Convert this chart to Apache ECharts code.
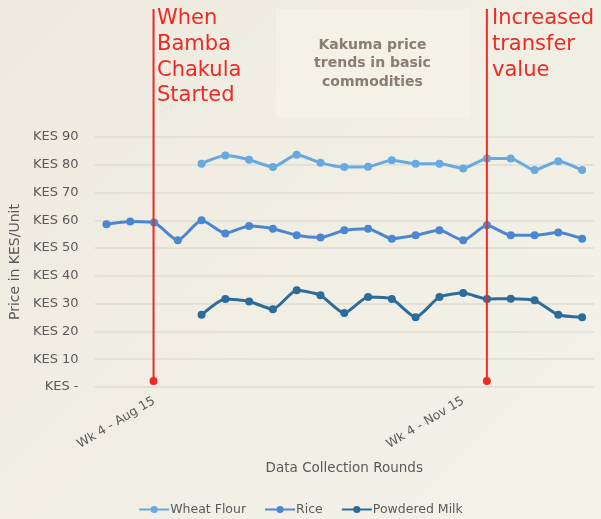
<!DOCTYPE html>
<html>
<head>
<meta charset="utf-8">
<title>Kakuma price trends</title>
<script src="https://cdn.jsdelivr.net/npm/echarts@6/dist/echarts.min.js"></script>
<style>
  html, body { margin: 0; padding: 0; }
  body {
    width: 601px;
    height: 519px;
    background: linear-gradient(135deg, #eeeadf 0%, #f1eee4 50%, #f4f2e9 100%);
  }
  #chart { width: 601px; height: 519px; }
</style>
</head>
<body>
<div id="chart"></div>
<script>
// weekly data collection rounds, only two of them carry a label
const categories = [
  "", "", "Wk 4 - Aug 15", "", "", "", "", "", "", "", "",
  "", "", "", "", "Wk 4 - Nov 15", "", "", "", "", ""
];

// prices in KES per unit
const wheatFlour = [
  null, null, null, null,
  80.4, 83.3, 81.8, 79.2, 83.6, 80.7, 79.2, 79.3, 81.6,
  80.4, 80.4, 78.7, 82.3, 82.3, 78.1, 81.3, 78.1
];
const rice = [
  58.6, 59.6, 59.2, 52.8, 60.0, 55.3, 58.0, 57.0, 54.6, 53.8, 56.4,
  57.0, 53.4, 54.6, 56.4, 52.8, 58.2, 54.6, 54.6, 55.6, 53.4
];
const powderedMilk = [
  null, null, null, null,
  26.0, 31.7, 30.8, 28.0, 34.8, 33.0, 26.6, 32.4, 31.7,
  25.1, 32.4, 33.8, 31.7, 31.8, 31.2, 26.0, 25.1
];

// annotation lines: category index and text
const eventIdx = [2, 16];
const eventText = ["When\nBamba\nChakula\nStarted", "Increased\ntransfer\nvalue"];

const yTicks = [0, 10, 20, 30, 40, 50, 60, 70, 80, 90];

const textColor = "#595959";
const font = "DejaVu Sans";

function eventSeries(idx) {
  return {
    type: "line",
    xAxisIndex: 1,
    yAxisIndex: 1,
    silent: true,
    z: 5,
    data: [
      { value: [idx, 1.6], symbol: "circle", symbolSize: 8 },
      { value: [idx, 100], symbol: "none" }
    ],
    itemStyle: { color: "#ee2a24" },
    lineStyle: { color: "#ee2a24", width: 2 }
  };
}

function priceSeries(name, data, color) {
  return {
    name: name,
    type: "line",
    data: data,
    smooth: 0.2,
    connectNulls: false,
    symbol: "circle",
    symbolSize: 8,
    itemStyle: { color: color },
    lineStyle: { color: color, width: 3 },
    z: 3
  };
}

const chart = echarts.init(document.getElementById("chart"));
chart.setOption({
  backgroundColor: "transparent",
  animation: false,
  textStyle: { fontFamily: font },
  grid: [
    { left: 94, right: 7, top: 137, bottom: 132 },
    { left: 94, right: 7, top: 9, bottom: 132 }
  ],
  legend: {
    data: ["Wheat Flour", "Rice", "Powdered Milk"],
    left: "center",
    top: 498,
    itemWidth: 30,
    itemHeight: 9,
    itemGap: 18,
    textStyle: { color: textColor, fontSize: 12.5, fontFamily: font, padding: [0, 0, 0, -4] }
  },
  xAxis: [
    {
      type: "category",
      data: categories,
      gridIndex: 0,
      boundaryGap: true,
      axisLine: { show: false },
      axisTick: { show: false },
      axisLabel: {
        interval: 0,
        rotate: 31,
        margin: 13,
        color: textColor,
        fontSize: 12.5,
        fontFamily: font
      },
      name: "Data Collection Rounds",
      nameLocation: "middle",
      nameGap: 74,
      nameTextStyle: { color: textColor, fontSize: 13.5, fontFamily: font }
    },
    {
      type: "category",
      data: categories,
      gridIndex: 1,
      boundaryGap: true,
      show: false
    }
  ],
  yAxis: [
    {
      type: "value",
      gridIndex: 0,
      min: yTicks[0],
      max: yTicks[yTicks.length - 1],
      interval: 10,
      axisLine: { show: false },
      axisTick: { show: false },
      splitLine: { lineStyle: { color: "#dfdcd4", width: 1.5 } },
      axisLabel: {
        margin: 16,
        color: textColor,
        fontSize: 13,
        fontFamily: font,
        formatter: function (v) { return v === 0 ? "KES -" : "KES " + v; }
      },
      name: "Price in KES/Unit",
      nameLocation: "middle",
      nameGap: 72,
      nameTextStyle: { color: textColor, fontSize: 14, fontFamily: font }
    },
    {
      type: "value",
      gridIndex: 1,
      min: 0,
      max: 100,
      show: false
    }
  ],
  series: [
    priceSeries("Wheat Flour", wheatFlour, "#68aadf"),
    priceSeries("Rice", rice, "#4d86d0"),
    priceSeries("Powdered Milk", powderedMilk, "#2c6c9b"),
    eventSeries(eventIdx[0]),
    eventSeries(eventIdx[1])
  ],
  graphic: [
    {
      type: "rect",
      shape: { x: 276, y: 9, width: 194, height: 109 },
      style: { fill: "#f4f1e7" },
      z: 0,
      silent: true
    },
    {
      type: "text",
      x: 372.5,
      y: 63.5,
      z: 1,
      style: {
        text: "Kakuma price\ntrends in basic\ncommodities",
        fill: "#8b7b72",
        font: "bold 14px " + font,
        lineHeight: 18.5,
        align: "center",
        verticalAlign: "middle"
      }
    },
    {
      type: "text",
      x: 157,
      y: 6,
      style: {
        text: eventText[0],
        fill: "#ee2a24",
        font: "21px " + font,
        lineHeight: 25.7,
        align: "left",
        verticalAlign: "top"
      }
    },
    {
      type: "text",
      x: 492,
      y: 6,
      style: {
        text: eventText[1],
        fill: "#ee2a24",
        font: "21px " + font,
        lineHeight: 25.7,
        align: "left",
        verticalAlign: "top"
      }
    }
  ]
});
</script>
</body>
</html>
